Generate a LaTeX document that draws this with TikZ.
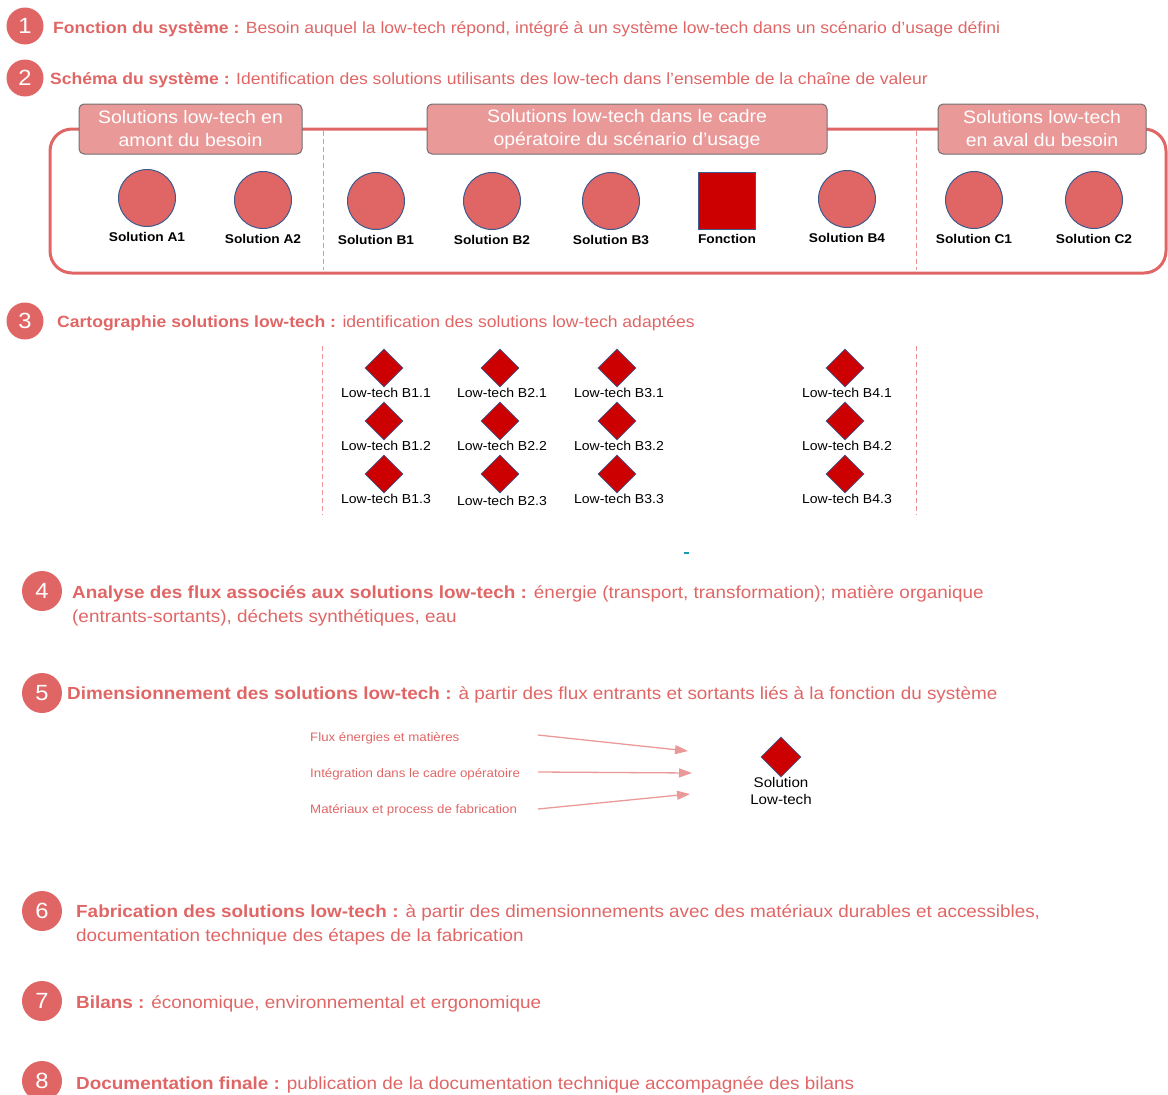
\documentclass[tikz,border=0pt]{standalone}
\usepackage{fontspec}
\setmainfont[FakeStretch=1.08]{Liberation Sans}
\usepackage{xcolor}
\usepackage{tikz}
\usetikzlibrary{arrows.meta,shapes.geometric}

\definecolor{rouge}{HTML}{E06666}
\definecolor{rose}{HTML}{EA9999}
\definecolor{rougefonce}{HTML}{CC0000}
\definecolor{bleufonce}{HTML}{3C5A8C}
\definecolor{gris}{HTML}{707070}
\definecolor{turquoise}{HTML}{1A9BB0}

\begin{document}
\begin{tikzpicture}[x=1pt,y=-1pt,node distance=53pt,
		num node/.style={circle,fill=rouge,text=white,inner sep=0pt,minimum size=37pt,font=\fontsize{22}{22}\selectfont},
		step text/.style={anchor=west,text=rouge,inner sep=0pt,align=left},
		small step/.style={step text,font=\fontsize{16.25}{19}\selectfont},
		big step/.style={step text,font=\fontsize{17.5}{24}\selectfont},
		head box/.style={rounded corners=5pt,fill=rose,draw=gris,line width=1pt,text=white,minimum height=50pt,inner sep=0pt,align=center,font=\fontsize{18}{23}\selectfont},
		sol node/.style={circle,fill=rouge,draw=bleufonce,line width=1pt,minimum size=57pt,inner sep=0pt},
		sol label/.style={inner sep=0pt,yshift=-5pt,font=\fontsize{12.7}{15}\selectfont\bfseries},
		lt node/.style={diamond,fill=rougefonce,draw=bleufonce,line width=0.8pt,minimum size=38pt,inner sep=0pt},
		lt label/.style={inner sep=0pt,xshift=2pt,font=\fontsize{13}{15}\selectfont},
		sep line/.style={draw=rouge!70,line width=1pt,dash pattern=on 5pt off 3pt},
		flux/.style={->,>={Triangle[length=13pt,width=9pt]},draw=rose,line width=1.3pt},
		flux text/.style={anchor=west,text=rouge,inner sep=0pt,font=\fontsize{12.3}{14}\selectfont}]

	\useasboundingbox (0,0) rectangle (1168,1095);

	% 1 et 2
	\node[num node] (n1) at (25,26) {1};
	\node[small step] (t1) at (53,29) {\textbf{Fonction du système :} Besoin auquel la low-tech répond, intégré à un système low-tech dans un scénario d’usage défini};
	\node[num node] (n2) at (25,78) {2};
	\node[small step] (t2) at (50,80) {\textbf{Schéma du système :} Identification des solutions utilisants des low-tech dans l’ensemble de la chaîne de valeur};

	% cadre du systeme
	\draw[rouge,line width=3pt,rounded corners=22pt] (50,129) rectangle (1166,273);
	\draw[sep line] (323,131) -- (323,270);
	\draw[sep line] (916,131) -- (916,270);
	\node[head box,minimum width=223pt] (h1) at (190.5,129) {Solutions low-tech en\\amont du besoin};
	\node[head box,minimum width=400pt] (h2) at (627,129) {Solutions low-tech dans le cadre\\opératoire du scénario d’usage};
	\node[head box,minimum width=208pt] (h3) at (1042,129) {Solutions low-tech\\en aval du besoin};

	\node[sol node,label={[sol label]below:Solution A1}] (a1) at (147,198) {};
	\node[sol node,label={[sol label]below:Solution A2}] (a2) at (263,200) {};
	\node[sol node,label={[sol label]below:Solution B1}] (b1) at (376,201) {};
	\node[sol node,label={[sol label]below:Solution B2}] (b2) at (492,201) {};
	\node[sol node,label={[sol label]below:Solution B3}] (b3) at (611,201) {};
	\node[rectangle,fill=rougefonce,draw=bleufonce,line width=1pt,minimum size=57pt,inner sep=0pt,label={[sol label,yshift=1pt]below:Fonction}] (fct) at (727,201) {};
	\node[sol node,label={[sol label]below:Solution B4}] (b4) at (847,199) {};
	\node[sol node,label={[sol label]below:Solution C1}] (c1) at (974,200) {};
	\node[sol node,label={[sol label]below:Solution C2}] (c2) at (1094,200) {};

	% 3 cartographie
	\node[num node] (n3) at (25,321) {3};
	\node[small step] (t3) at (57,323) {\textbf{Cartographie solutions low-tech :} identification des solutions low-tech adaptées};
	\draw[sep line] (322,346) -- (322,515);
	\draw[sep line] (916,346) -- (916,515);

	\node[lt node,label={[lt label]below:Low-tech B1.1}] (b11) at (384,368) {};
	\node[lt node,label={[lt label]below:Low-tech B1.2}] (b12) [below of=b11] {};
	\node[lt node,label={[lt label]below:Low-tech B1.3}] (b13) [below of=b12] {};
	\node[lt node,label={[lt label]below:Low-tech B2.1}] (b21) at (500,368) {};
	\node[lt node,label={[lt label]below:Low-tech B2.2}] (b22) [below of=b21] {};
	\node[lt node,label={[lt label,yshift=-2pt]below:Low-tech B2.3}] (b23) [below of=b22] {};
	\node[lt node,label={[lt label]below:Low-tech B3.1}] (b31) at (617,368) {};
	\node[lt node,label={[lt label]below:Low-tech B3.2}] (b32) [below of=b31] {};
	\node[lt node,label={[lt label]below:Low-tech B3.3}] (b33) [below of=b32] {};
	\node[lt node,label={[lt label]below:Low-tech B4.1}] (b41) at (845,368) {};
	\node[lt node,label={[lt label]below:Low-tech B4.2}] (b42) [below of=b41] {};
	\node[lt node,label={[lt label]below:Low-tech B4.3}] (b43) [below of=b42] {};

	\draw[turquoise,line width=1.5pt] (684,553) -- (689,553);

	% 4 et 5
	\node[num node,minimum size=40pt] (n4) at (42,591) {4};
	\node[big step] (t4) at (72,606) {\textbf{Analyse des flux associés aux solutions low-tech :} énergie (transport, transformation); matière organique\\(entrants-sortants), déchets synthétiques, eau};
	\node[num node,minimum size=40pt] (n5) at (42,693) {5};
	\node[big step] (t5) at (67,695) {\textbf{Dimensionnement des solutions low-tech :} à partir des flux entrants et sortants liés à la fonction du système};

	\node[flux text] (f1) at (310,738) {Flux énergies et matières};
	\node[flux text] (f2) at (310,774) {Intégration dans le cadre opératoire};
	\node[flux text] (f3) at (310,810) {Matériaux et process de fabrication};
	\coordinate (f1s) at (538,735);
	\coordinate (f1e) at (688,751);
	\coordinate (f2s) at (538,772);
	\coordinate (f2e) at (692,773);
	\coordinate (f3s) at (538,809);
	\coordinate (f3e) at (690,794);
	\draw[flux] (f1s) -- (f1e);
	\draw[flux] (f2s) -- (f2e);
	\draw[flux] (f3s) -- (f3e);
	\node[lt node,minimum size=40pt,label={[inner sep=0pt,align=center,font=\fontsize{14}{17}\selectfont]below:Solution\\Low-tech}] (sol) at (781,757) {};

	% 6 a 8
	\node[num node,minimum size=40pt] (n6) at (42,911) {6};
	\node[big step] (t6) at (76,925) {\textbf{Fabrication des solutions low-tech :} à partir des dimensionnements avec des matériaux durables et accessibles,\\documentation technique des étapes de la fabrication};
	\node[num node,minimum size=40pt] (n7) at (42,1001) {7};
	\node[big step] (t7) at (76,1004) {\textbf{Bilans :} économique, environnemental et ergonomique};
	\node[num node,minimum size=40pt] (n8) at (42,1081) {8};
	\node[big step] (t8) at (76,1085) {\textbf{Documentation finale :} publication de la documentation technique accompagnée des bilans};

\end{tikzpicture}
\end{document}
